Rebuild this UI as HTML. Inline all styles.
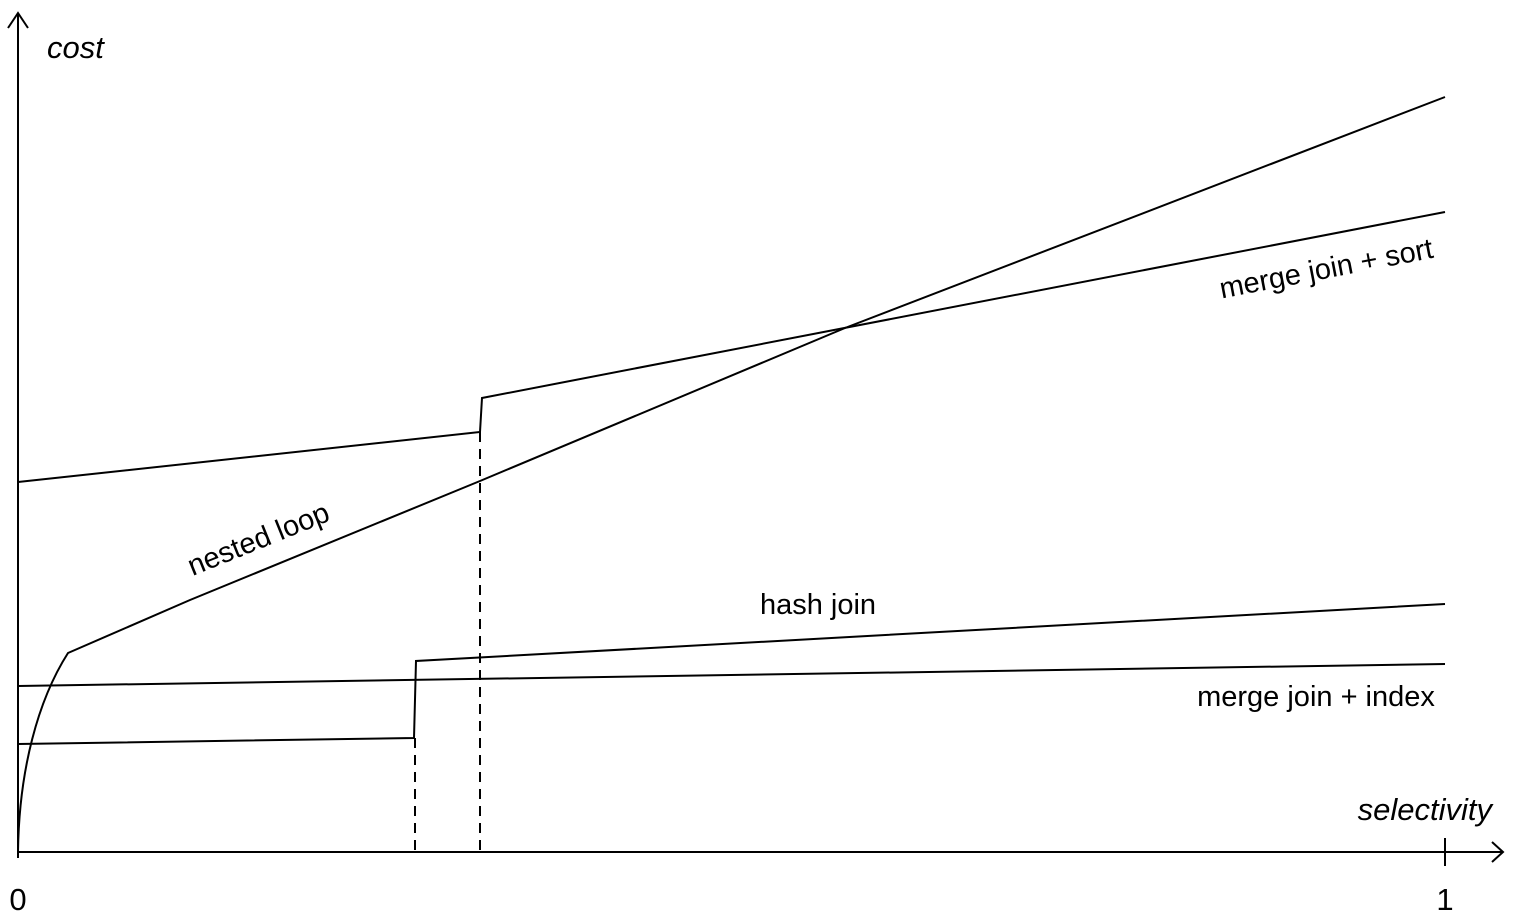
<!DOCTYPE html>
<html><head><style>html,body{margin:0;padding:0;background:#fff;}</style></head><body>
<svg width="1528" height="919" xmlns="http://www.w3.org/2000/svg" font-family="Liberation Sans, sans-serif" font-size="29">
<g stroke="#000" stroke-width="2" fill="none">
<line x1="18" y1="858" x2="18" y2="13"/>
<polyline points="8,28 18,13 28,28"/>
<line x1="18" y1="852" x2="1503" y2="852"/>
<polyline points="1492,842 1503,852 1492,862"/>
<line x1="1445" y1="838" x2="1445" y2="866"/>
<polyline points="18,482 480,432 482,398 1445,212"/>
<path d="M18,852 C19,770 38,700 68,653 L190,600 L480,481 L845,328 L1445,97"/>
<polyline points="18,744 414,738 416,661 1445,604"/>
<line x1="18" y1="686" x2="1445" y2="664"/>
<line x1="415" y1="738" x2="415" y2="852" stroke-dasharray="10,7"/>
<line x1="480" y1="432" x2="480" y2="852" stroke-dasharray="10,7"/>
</g>
<g fill="#000">
<text x="47" y="58" font-style="italic" font-size="31">cost</text>
<text x="1492" y="820" font-style="italic" font-size="31" text-anchor="end">selectivity</text>
<text x="18" y="910" font-size="31" text-anchor="middle">0</text>
<text x="1445" y="910" font-size="31" text-anchor="middle">1</text>
<text x="818" y="614" text-anchor="middle">hash join</text>
<text x="1316" y="706" text-anchor="middle">merge join + index</text>
<text transform="translate(1328,278) rotate(-10.9)" text-anchor="middle">merge join + sort</text>
<text transform="translate(262,548) rotate(-22)" text-anchor="middle">nested loop</text>
</g>
</svg>
</body></html>
